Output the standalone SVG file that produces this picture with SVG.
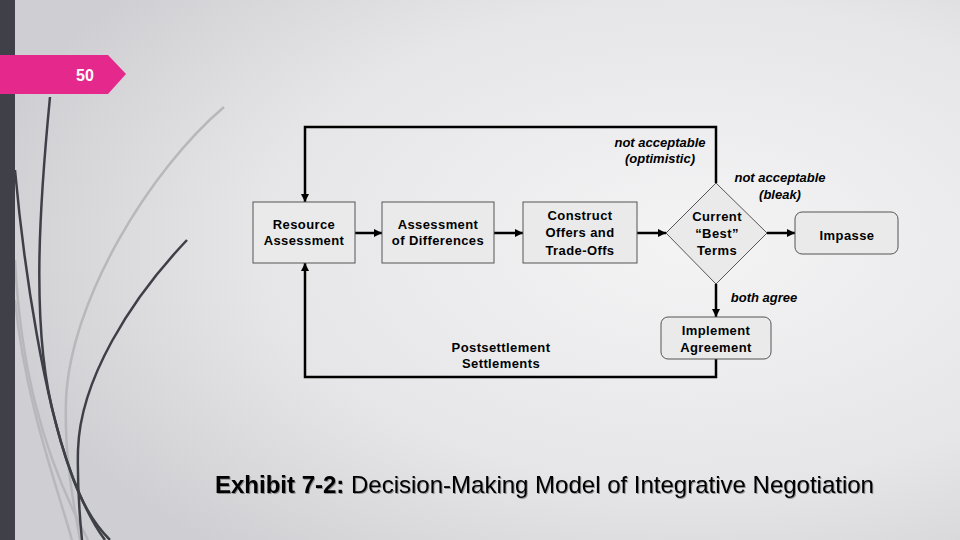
<svg xmlns="http://www.w3.org/2000/svg" width="960" height="540" viewBox="0 0 960 540">
<defs>
<radialGradient id="bg" cx="0.72" cy="0.45" r="0.75">
<stop offset="0" stop-color="#F4F4F5"/>
<stop offset="0.6" stop-color="#E6E6E8"/>
<stop offset="1" stop-color="#CFCFD3"/>
</radialGradient>
<marker id="a" viewBox="0 0 10 10" refX="10" refY="5" markerWidth="8" markerHeight="8" orient="auto" markerUnits="userSpaceOnUse">
<path d="M0,0 L10,5 L0,10 z" fill="#000"/>
</marker>
<filter id="sh" x="-5%" y="-20%" width="110%" height="140%">
<feDropShadow dx="1" dy="1" stdDeviation="0.6" flood-color="#000" flood-opacity="0.35"/>
</filter>
</defs>
<style>
.box{fill:#EAEAEA;stroke:#555;stroke-width:1}
.t{font-family:"Liberation Sans",Arial,sans-serif;font-weight:bold;font-size:13px;letter-spacing:0.4px;fill:#000;text-anchor:middle}
.lab{font-family:"Liberation Sans",Arial,sans-serif;font-weight:bold;font-style:italic;font-size:13px;fill:#000;text-anchor:middle}
.c{fill:none;stroke:#000;stroke-width:2.5}
.dk{fill:none;stroke:#3F3F48;stroke-width:2.5}
.lt{fill:none;stroke:#B8B8BC;stroke-width:2.5}
</style>
<rect width="960" height="540" fill="url(#bg)"/>
<g id="decor">
<path class="lt" d="M224,107 C150,170 70,300 66,400 C64,460 75,510 80,540"/>
<path class="lt" d="M15,260 C20,360 40,450 88,540"/>
<path class="lt" d="M15,300 C25,400 55,480 72,540"/>
<path class="dk" d="M50,97 C40,200 30,330 55,420 C70,480 90,520 105,540"/>
<path class="dk" d="M15,170 C25,280 45,400 70,470 C80,500 95,525 110,540"/>
<path class="dk" d="M187,240 C130,300 80,380 78,450 C77,490 80,520 82,540"/>
<rect x="0" y="0" width="15" height="540" fill="#404048"/>
</g>
<g id="slide-number">
<path d="M0,55 L108,55 L126,74 L108,94 L0,94 z" fill="#E4288C"/>
<text x="85" y="81" font-family="Liberation Sans,Arial,sans-serif" font-weight="bold" font-size="16" fill="#FFF" text-anchor="middle">50</text>
</g>
<g id="connectors">
<path class="c" d="M716,183 L716,127 L305,127 L305,202" marker-end="url(#a)"/>
<path class="c" d="M716,359 L716,377 L305,377 L305,263" marker-end="url(#a)"/>
<path class="c" d="M355,233 L382,233" marker-end="url(#a)"/>
<path class="c" d="M494,233 L523,233" marker-end="url(#a)"/>
<path class="c" d="M637,233 L666,233" marker-end="url(#a)"/>
<path class="c" d="M767,233 L795,233" marker-end="url(#a)"/>
<path class="c" d="M716,284 L716,317" marker-end="url(#a)"/>
</g>
<g id="labels">
<text class="lab" x="660" y="147">not acceptable</text>
<text class="lab" x="660" y="163">(optimistic)</text>
<text class="lab" x="780" y="182">not acceptable</text>
<text class="lab" x="780" y="199">(bleak)</text>
<text class="lab" x="764" y="302">both agree</text>
<text class="t" x="501" y="352">Postsettlement</text>
<text class="t" x="501" y="368">Settlements</text>
</g>
<g id="resource-assessment">
<rect class="box" x="253" y="202" width="102" height="61"/>
<text class="t" x="304" y="229">Resource</text>
<text class="t" x="304" y="245">Assessment</text>
</g>
<g id="assessment-differences">
<rect class="box" x="382" y="202" width="112" height="61"/>
<text class="t" x="438" y="229">Assessment</text>
<text class="t" x="438" y="245">of Differences</text>
</g>
<g id="construct-offers">
<rect class="box" x="523" y="202" width="114" height="61"/>
<text class="t" x="580" y="220">Construct</text>
<text class="t" x="580" y="237">Offers and</text>
<text class="t" x="580" y="255">Trade-Offs</text>
</g>
<g id="best-terms">
<path class="box" d="M716,183 L767,233 L716,284 L666,233 z"/>
<text class="t" x="717" y="221">Current</text>
<text class="t" x="717" y="238">“Best”</text>
<text class="t" x="717" y="255">Terms</text>
</g>
<g id="impasse">
<rect class="box" x="795" y="212" width="103" height="42" rx="7"/>
<text class="t" x="847" y="240">Impasse</text>
</g>
<g id="implement-agreement">
<rect class="box" x="661" y="317" width="110" height="42" rx="7"/>
<text class="t" x="716" y="335">Implement</text>
<text class="t" x="716" y="352">Agreement</text>
</g>
<g id="title" filter="url(#sh)">
<text x="215" y="493" font-family="Liberation Sans,Arial,sans-serif" font-size="24" fill="#000"><tspan font-weight="bold">Exhibit 7-2:</tspan> Decision-Making Model of Integrative Negotiation</text>
</g>
</svg>
